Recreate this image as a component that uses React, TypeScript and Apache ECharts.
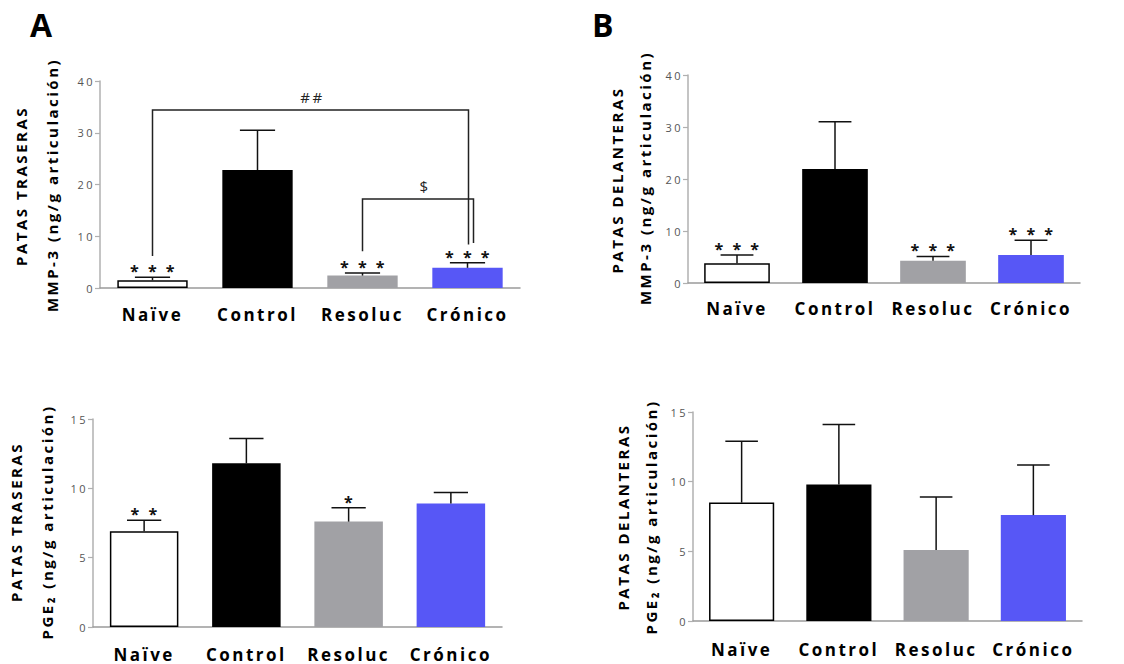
import React, { useEffect, useRef } from "react";
import * as echarts from "echarts";

// ---------- data ----------
const categories = ["Naïve", "Control", "Resoluc", "Crónico"];

// MMP-3, patas traseras (panel A, top)
const mmpTraserasMean = [1.5, 22.8, 2.4, 3.9];
const mmpTraserasSem = [0.6, 7.7, 0.5, 1.0];
const mmpTraserasStars = ["* * *", "", "* * *", "* * *"];

// MMP-3, patas delanteras (panel B, top)
const mmpDelanterasMean = [3.8, 21.9, 4.3, 5.4];
const mmpDelanterasSem = [1.6, 9.1, 0.8, 2.8];
const mmpDelanterasStars = ["* * *", "", "* * *", "* * *"];

// PGE2, patas traseras (panel A, bottom)
const pgeTraserasMean = [6.9, 11.8, 7.6, 8.9];
const pgeTraserasSem = [0.8, 1.8, 1.0, 0.8];
const pgeTraserasStars = ["* *", "", "*", ""];

// PGE2, patas delanteras (panel B, bottom)
const pgeDelanterasMean = [8.5, 9.8, 5.1, 7.6];
const pgeDelanterasSem = [4.4, 4.3, 3.8, 3.6];
const pgeDelanterasStars = ["", "", "", ""];

// comparison brackets in panel A top: [fromIdx, toIdx, topValue, leftLegEnd, rightLegEnd]
const bracketLabels = ["##", "$"];
const bracketData = [
  [0, 3, 34.4, 6.2, 8.4],
  [2, 3, 17.2, 7.1, 8.7],
];

const mmpTicks = { max: 40, interval: 10 };
const pgeTicks = { max: 15, interval: 5 };

// ---------- style ----------
const barColors = ["#ffffff", "#000000", "#a1a1a5", "#5757f6"];
const FONT = '"Open Sans", "DejaVu Sans", sans-serif';
const AXIS_GREY = "#9a9a9a";
const BAR_RATIO = 0.67;
const bracketRightShift = [1, 6];
const bracketLabelShift = [2, 7];

const grids = [
  { left: 100, top: 81, width: 420, height: 207 },
  { left: 688, top: 75, width: 392, height: 208 },
  { left: 93, top: 419, width: 409, height: 208 },
  { left: 693, top: 412, width: 389, height: 209 },
];
const labelMargins = [18, 17, 18.5, 19.5];

const panels = [
  { mean: mmpTraserasMean, sem: mmpTraserasSem, stars: mmpTraserasStars, ticks: mmpTicks },
  { mean: mmpDelanterasMean, sem: mmpDelanterasSem, stars: mmpDelanterasStars, ticks: mmpTicks },
  { mean: pgeTraserasMean, sem: pgeTraserasSem, stars: pgeTraserasStars, ticks: pgeTicks },
  { mean: pgeDelanterasMean, sem: pgeDelanterasSem, stars: pgeDelanterasStars, ticks: pgeTicks },
];

function buildOption() {
  const xAxis = grids.map((_, i) => ({
    type: "category",
    gridIndex: i,
    data: categories,
    axisLine: { lineStyle: { color: AXIS_GREY, width: 1.5 } },
    axisTick: { alignWithLabel: true, length: 5, lineStyle: { color: AXIS_GREY, width: 1.2 } },
    axisLabel: {
      interval: 0,
      margin: labelMargins[i],
      color: "#000",
      fontFamily: FONT,
      fontWeight: "bold",
      fontSize: 17,
    },
  }));

  const yAxis = panels.map((p, i) => ({
    type: "value",
    gridIndex: i,
    min: 0,
    max: p.ticks.max,
    interval: p.ticks.interval,
    axisLine: { show: true, lineStyle: { color: "#b0b0b0", width: 1.5 } },
    axisTick: { show: true, length: 5, lineStyle: { color: "#b0b0b0", width: 1.2 } },
    splitLine: { show: false },
    axisLabel: { color: "#555", fontSize: 11, margin: 5, fontFamily: FONT },
  }));

  const series: any[] = [];
  panels.forEach((p, i) => {
    series.push({
      type: "bar",
      xAxisIndex: i,
      yAxisIndex: i,
      barWidth: BAR_RATIO * 100 + "%",
      silent: true,
      data: p.mean.map((v, k) => ({
        value: v,
        itemStyle:
          k === 0
            ? { color: barColors[k], borderColor: "#000", borderWidth: 1.5 }
            : { color: barColors[k] },
      })),
    });
    const errData = p.mean.map((v, k) => [k, v, +(v + p.sem[k]).toFixed(2)]);
    series.push({
      type: "custom",
      xAxisIndex: i,
      yAxisIndex: i,
      silent: true,
      z: 5,
      encode: { x: 0, y: [1, 2] },
      data: errData,
      renderItem: (params: any, api: any) => {
        const x = api.value(0);
        const p0 = api.coord([x, api.value(1)]);
        const p1 = api.coord([x, api.value(2)]);
        const half = (api.size([1, 0])[0] * BAR_RATIO) / 4;
        const st = { stroke: "#111", lineWidth: 1.5 };
        const children: any[] = [
          { type: "line", shape: { x1: p0[0], y1: p0[1], x2: p1[0], y2: p1[1] }, style: st },
          { type: "line", shape: { x1: p1[0] - half, y1: p1[1], x2: p1[0] + half, y2: p1[1] }, style: st },
        ];
        const star = p.stars[params.dataIndex];
        if (star) {
          children.push({
            type: "text",
            x: p1[0] + 1,
            y: p1[1] - 6,
            style: {
              text: star,
              textAlign: "center",
              textVerticalAlign: "middle",
              font: `bold 16px ${FONT}`,
              fill: "#111",
            },
          });
        }
        return { type: "group", children };
      },
    });
  });

  // brackets (panel A top)
  series.push({
    type: "custom",
    xAxisIndex: 0,
    yAxisIndex: 0,
    silent: true,
    z: 6,
    encode: { x: 0, y: 2 },
    data: bracketData,
    renderItem: (params: any, api: any) => {
      const a = api.value(0);
      const b = api.value(1);
      const top = api.value(2);
      const lTop = api.coord([a, top]);
      const rTop = api.coord([b, top]);
      const lEnd = api.coord([a, api.value(3)]);
      const rEnd = api.coord([b, api.value(4)]);
      const dx = bracketRightShift[params.dataIndex];
      return {
        type: "group",
        children: [
          {
            type: "polyline",
            shape: {
              points: [
                [lEnd[0], lEnd[1]],
                [lTop[0], lTop[1]],
                [rTop[0] + dx, rTop[1]],
                [rEnd[0] + dx, rEnd[1]],
              ],
            },
            style: { stroke: "#222", lineWidth: 1.5, fill: null },
          },
          {
            type: "text",
            x: (lTop[0] + rTop[0] + dx) / 2 + bracketLabelShift[params.dataIndex],
            y: lTop[1] - 13,
            style: {
              text: bracketLabels[params.dataIndex],
              textAlign: "center",
              textVerticalAlign: "middle",
              font: `15px ${FONT}`,
              fill: "#222",
            },
          },
        ],
      };
    },
  });

  const titleFont = `bold 15px ${FONT}`;
  const vText = (x: number, y: number, text: string) => ({
    type: "text",
    x,
    y,
    rotation: Math.PI / 2,
    silent: true,
    style: {
      text,
      textAlign: "center",
      textVerticalAlign: "middle",
      font: titleFont,
      fill: "#000",
    },
  });
  const pgeText = "PGE₂ (ng/g articulación)";

  const graphic = [
    { type: "text", left: 30, top: 8, silent: true, style: { text: "A", font: `bold 32px ${FONT}`, fill: "#000" } },
    { type: "text", left: 592, top: 8, silent: true, style: { text: "B", font: `bold 32px ${FONT}`, fill: "#000" } },
    vText(21, 186, "PATAS TRASERAS"),
    vText(52, 185, "MMP-3 (ng/g articulación)"),
    vText(617, 180, "PATAS DELANTERAS"),
    vText(645, 178, "MMP-3 (ng/g articulación)"),
    vText(16, 522, "PATAS TRASERAS"),
    vText(47, 522, pgeText),
    vText(623, 517, "PATAS DELANTERAS"),
    vText(651, 517, pgeText),
  ];

  return {
    animation: false,
    backgroundColor: "#ffffff",
    grid: grids.map((g) => ({ ...g, containLabel: false })),
    xAxis,
    yAxis,
    series,
    graphic,
  };
}

export default function App() {
  const ref = useRef<HTMLDivElement>(null);
  useEffect(() => {
    document.body.style.margin = "0";
    if (!ref.current) return;
    const chart = echarts.init(ref.current, undefined, { renderer: "svg" });
    chart.setOption(buildOption() as any);
    return () => chart.dispose();
  }, []);
  return (
    <>
      <style>{`.chart-root text { letter-spacing: 2.5px; }`}</style>
      <div
        ref={ref}
        className="chart-root"
        style={{ position: "fixed", left: 0, top: 0, width: 1124, height: 664 }}
      />
    </>
  );
}
